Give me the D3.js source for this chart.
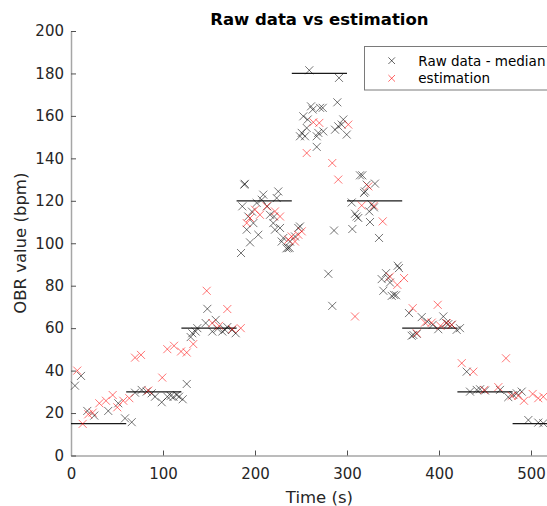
<!DOCTYPE html>
<html>
<head>
<meta charset="utf-8">
<script src="https://cdn.jsdelivr.net/npm/d3@7"></script>
<style>
  html, body { margin: 0; padding: 0; background: #fff; }
  svg { display: block; font-family: "DejaVu Sans", sans-serif; }
</style>
</head>
<body>
<svg id="chart" width="547" height="506"></svg>
<script>
// Raw OBR readings (time in s, value in bpm)
const rawTime = [4.3, 10.9, 17.7, 25.3, 40.5, 51.4, 58.7, 66.0,
  69.6, 76.8, 82.3, 87.7, 91.3, 98.6, 104.7, 108.4, 114.9, 121.4, 125.8, 117.4, 111.4,
  130.1, 131.8, 135.5, 137.3, 146.4, 148.2, 153.6, 157.3, 164.5, 169.9, 179.0, 175.0, 159.2, 167.4,
  188.4, 188.9, 186.2, 184.8, 194.6, 191.0, 192.7, 203.6, 201.8, 209.0, 207.3, 213.4, 198.2, 219.9,
  221.7, 225.3, 223.6, 230.8, 236.2, 238.0, 243.5, 247.1, 248.9, 229.0, 234.2, 237.5, 196.7, 216.3,
  220.7, 227.2,
  259.0, 291.3, 289.5, 260.9, 262.7, 270.7, 273.6, 252.5, 257.3, 274.2, 250.8, 254.3, 248.9, 256.2,
  267.1, 268.8, 267.1, 287.0, 296.0, 294.2, 299.7, 290.5, 285.9, 279.7, 284.0,
  314.1, 316.6, 321.4, 330.4, 319.6, 318.5, 305.1, 326.8, 329.3, 324.2, 308.7, 310.5, 312.3, 325.0,
  305.8, 334.8,
  355.1, 356.5, 342.4, 337.7, 346.7, 339.5, 348.6, 351.1, 353.3, 344.9,
  367.4, 372.1, 375.8, 381.2, 387.3, 393.2, 399.2, 404.7, 407.6, 413.8, 419.2, 422.8, 370.3, 410.1,
  430.1, 433.7, 441.0, 444.6, 450.0, 466.3, 475.3, 480.8, 484.5, 489.9,
  497.1, 507.9, 513.4];
const rawValue = [32.9, 37.5, 21.0, 18.8, 21.0, 24.6, 17.5, 15.7,
  29.6, 30.9, 30.1, 29.3, 27.7, 25.1, 27.7, 28.1, 28.5, 26.5, 33.7, 27.7, 27.6,
  55.8, 57.6, 58.4, 60.0, 62.4, 69.1, 58.4, 63.9, 58.4, 60.5, 57.6, 59.2, 59.7, 59.2,
  127.6, 128.0, 117.4, 95.4, 100.4, 106.4, 112.6, 104.0, 119.0, 122.9, 120.5, 117.4, 109.5, 109.5,
  106.4, 124.4, 121.3, 102.5, 97.7, 100.8, 103.2, 107.2, 107.9, 100.8, 97.6, 97.9, 114.9, 113.4,
  112.6, 107.2,
  181.5, 177.9, 166.4, 164.5, 163.0, 163.8, 163.8, 159.8, 158.3, 152.7, 152.0, 150.4, 150.4, 154.3,
  150.4, 152.0, 145.4, 153.5, 158.3, 155.9, 151.2, 155.1, 106.0, 85.6, 70.5,
  132.0, 132.0, 127.6, 128.1, 124.4, 123.7, 119.2, 118.2, 116.9, 115.0, 113.9, 112.6, 111.9, 110.0,
  106.7, 102.5,
  89.4, 88.3, 85.9, 83.1, 81.5, 77.6, 75.2, 75.7, 75.5, 83.6,
  67.1, 56.8, 57.3, 65.2, 63.1, 61.6, 59.5, 65.5, 62.4, 61.6, 59.2, 60.0, 56.4, 61.9,
  39.5, 30.1, 30.9, 31.2, 30.6, 30.9, 27.5, 28.5, 29.3, 30.1,
  16.7, 15.5, 15.2];

// Estimated OBR
const estTime = [6.8, 12.7, 18.8, 23.6, 30.8, 38.0, 45.3, 50.3, 56.8, 63.4,
  69.6, 76.1, 84.0, 99.2, 104.7, 112.0, 119.6, 125.8, 132.9,
  147.5, 169.9, 153.6, 160.9, 175.3, 184.5,
  191.0, 194.6, 200.0, 205.4, 212.7, 221.7, 227.2, 236.2, 239.9, 243.5, 247.1, 250.8,
  263.4, 269.9, 301.4, 256.2, 284.0, 290.5,
  316.0, 323.2, 329.3, 338.8, 308.7, 346.7, 354.7, 362.0,
  371.4, 398.6, 375.8, 384.8, 392.1, 408.4, 413.8, 401.6,
  424.7, 437.3, 449.2, 464.5, 472.8, 479.0, 486.2, 492.4, 501.8, 507.9, 513.4];
const estValue = [40.0, 14.9, 19.4, 20.2, 24.6, 25.8, 28.5, 22.7, 25.8, 27.0,
  46.1, 47.4, 30.6, 36.7, 50.1, 51.7, 49.0, 48.5, 52.5,
  77.6, 69.0, 62.4, 61.1, 59.5, 60.0,
  109.5, 111.9, 115.8, 113.4, 117.4, 115.0, 112.6, 101.7, 103.2, 100.8, 104.0, 105.6,
  157.0, 156.7, 155.9, 142.5, 137.8, 130.0,
  117.8, 126.8, 117.7, 110.3, 65.5, 84.3, 80.4, 83.6,
  69.4, 71.0, 57.6, 62.6, 62.6, 62.4, 61.6, 61.1,
  43.5, 39.5, 30.9, 32.2, 45.8, 28.1, 28.1, 25.8, 29.0, 27.0, 27.7];

// Per-stage median of the raw data
const medianStart = [0, 60, 120, 180, 240, 300, 360, 420, 480];
const medianEnd   = [60, 120, 180, 240, 300, 360, 420, 480, 540];
const medianValue = [15, 30, 60, 120, 180, 120, 60, 30, 15];

const xTicks = [0, 100, 200, 300, 400, 500];
const yTicks = [0, 20, 40, 60, 80, 100, 120, 140, 160, 180, 200];

const svg = d3.select("#chart");
const x = d3.scaleLinear().domain([0, 540]).range([71, 567.8]);
const y = d3.scaleLinear().domain([0, 200]).range([455.5, 31]);

const textColor = "#262626";

// axes
const xAxis = svg.append("g")
  .attr("transform", `translate(0,${y(0)})`)
  .call(d3.axisBottom(x).tickValues(xTicks).tickSizeInner(-5).tickSizeOuter(0).tickPadding(12.8));
const yAxis = svg.append("g")
  .attr("transform", `translate(${x(0)},0)`)
  .call(d3.axisLeft(y).tickValues(yTicks).tickSizeInner(-5).tickSizeOuter(0).tickPadding(7));

[xAxis, yAxis].forEach(g => {
  g.select(".domain").attr("stroke", "#a6a6a6").attr("stroke-width", 1.5);
  g.selectAll(".tick line").attr("stroke", "#505050").attr("stroke-width", 1);
  g.selectAll(".tick text").attr("fill", textColor)
    .style("font-size", "15px").style("font-family", "DejaVu Sans, sans-serif");
});

// x-shaped marker path
function cross(r) {
  return `M${-r},${-r}L${r},${r}M${-r},${r}L${r},${-r}`;
}

// median lines
svg.append("g").selectAll("line")
  .data(medianValue)
  .join("line")
  .attr("x1", (d, i) => x(medianStart[i]))
  .attr("x2", (d, i) => x(medianEnd[i]))
  .attr("y1", d => y(d))
  .attr("y2", d => y(d))
  .attr("stroke", "#1a1a1a")
  .attr("stroke-width", 1.2);

// raw data markers
svg.append("g").selectAll("path")
  .data(rawValue)
  .join("path")
  .attr("transform", (d, i) => `translate(${x(rawTime[i])},${y(d)})`)
  .attr("d", cross(4))
  .attr("fill", "none")
  .attr("stroke", "#000")
  .attr("stroke-opacity", 0.55)
  .attr("stroke-width", 1);

// estimation markers
svg.append("g").selectAll("path")
  .data(estValue)
  .join("path")
  .attr("transform", (d, i) => `translate(${x(estTime[i])},${y(d)})`)
  .attr("d", cross(4))
  .attr("fill", "none")
  .attr("stroke", "#ff0000")
  .attr("stroke-opacity", 0.55)
  .attr("stroke-width", 1);

// title and axis labels
const cx = (x.range()[0] + x.range()[1]) / 2;
svg.append("text")
  .attr("x", cx).attr("y", 25)
  .attr("text-anchor", "middle")
  .style("font-size", "16.5px").style("font-weight", "bold")
  .attr("fill", "#000")
  .text("Raw data vs estimation");

svg.append("text")
  .attr("x", cx).attr("y", 503)
  .attr("text-anchor", "middle")
  .style("font-size", "16.5px")
  .attr("fill", textColor)
  .text("Time (s)");

svg.append("text")
  .attr("transform", `translate(26,${(y(0) + y(200)) / 2}) rotate(-90)`)
  .attr("text-anchor", "middle")
  .style("font-size", "16.5px")
  .attr("fill", textColor)
  .text("OBR value (bpm)");

// legend
const legend = svg.append("g");
legend.append("rect")
  .attr("x", 364.5).attr("y", 46.5)
  .attr("width", 200).attr("height", 43.5)
  .attr("fill", "#fff")
  .attr("stroke", "#7a7a7a")
  .attr("stroke-width", 1);

const legendItems = [
  { label: "Raw data - median", color: "#000" },
  { label: "estimation", color: "#ff0000" }
];
legendItems.forEach((item, i) => {
  const cy = 60.7 + i * 17.6;
  legend.append("path")
    .attr("transform", `translate(391.7,${cy})`)
    .attr("d", cross(3.3))
    .attr("fill", "none")
    .attr("stroke", item.color)
    .attr("stroke-opacity", 0.6)
    .attr("stroke-width", 1);
  legend.append("text")
    .attr("x", 418.3).attr("y", cy + 4.9)
    .style("font-size", "13.5px")
    .attr("fill", "#000")
    .text(item.label);
});
</script>
</body>
</html>
